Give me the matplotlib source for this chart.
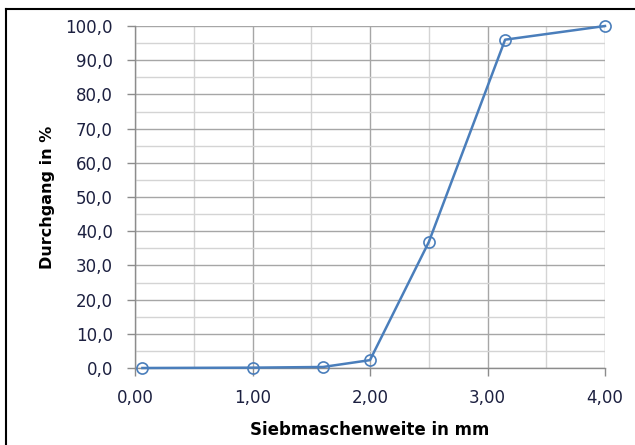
import matplotlib
matplotlib.use('Agg')
import matplotlib.pyplot as plt
from matplotlib.ticker import MultipleLocator, FuncFormatter

# Siebanalyse
sieve_mm = [0.063, 1.0, 1.6, 2.0, 2.5, 3.15, 4.0]
passing_pct = [0.0, 0.1, 0.3, 2.3, 36.8, 96.0, 100.0]

x_label = 'Siebmaschenweite in mm'
y_label = 'Durchgang in %'

plt.rcParams['font.family'] = ['DejaVu Sans']
txt_color = '#1c2040'

fig = plt.figure(figsize=(6.35, 4.45), dpi=100)
ax = fig.add_axes([135 / 635, 1 - 368 / 445, 470 / 635, 342 / 445])

ax.plot(sieve_mm, passing_pct, color='#4a7ebb', linewidth=1.8,
        marker='o', markersize=8, markerfacecolor='none',
        markeredgecolor='#4a7ebb', markeredgewidth=1.2, clip_on=False, zorder=5)

ax.set_xlim(0, 4)
ax.set_ylim(0, 100)
ax.xaxis.set_major_locator(MultipleLocator(1))
ax.xaxis.set_minor_locator(MultipleLocator(0.5))
ax.yaxis.set_major_locator(MultipleLocator(10))
ax.yaxis.set_minor_locator(MultipleLocator(5))
ax.xaxis.set_major_formatter(FuncFormatter(lambda v, p: f'{v:.2f}'.replace('.', ',')))
ax.yaxis.set_major_formatter(FuncFormatter(lambda v, p: f'{v:.1f}'.replace('.', ',')))

ax.grid(which='major', color='#a6a6a6', linewidth=1.0)
ax.grid(which='minor', color='#d4d4d4', linewidth=1.0)
ax.set_axisbelow(True)

for s in ['top', 'right']:
    ax.spines[s].set_visible(False)
for s in ['left', 'bottom']:
    ax.spines[s].set_color('#8c8c8c')
    ax.spines[s].set_linewidth(1.0)

ax.tick_params(which='major', length=6, width=1.0, color='#8c8c8c',
               labelsize=12, labelcolor=txt_color)
ax.tick_params(axis='y', pad=10)
ax.tick_params(axis='x', pad=9)
ax.tick_params(which='minor', length=0)

ax.set_xlabel(x_label, fontsize=12, fontweight='bold', color='black')
ax.set_ylabel(y_label, fontsize=11.5, fontweight='bold', color='black')
ax.xaxis.set_label_coords(0.5, -0.155)
ax.yaxis.set_label_coords(-0.170, 0.5)

# outer frame (only top and left visible in the crop)
fig.add_artist(plt.Line2D([6 / 635, 6 / 635], [0, 1 - 9 / 445], color='black',
                          linewidth=1.5, transform=fig.transFigure))
fig.add_artist(plt.Line2D([6 / 635, 1], [1 - 9 / 445, 1 - 9 / 445], color='black',
                          linewidth=1.5, transform=fig.transFigure))

fig.savefig('out.png', dpi=100)
